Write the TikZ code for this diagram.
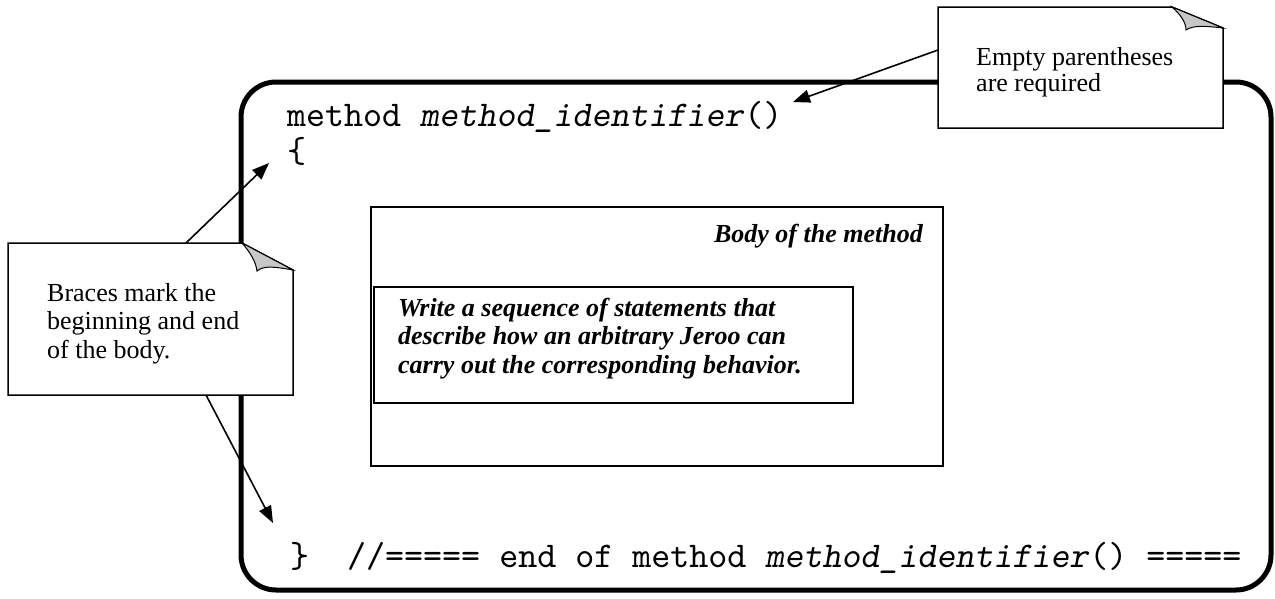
\documentclass[tikz,border=0pt]{standalone}
\usepackage{fontspec}
\setmainfont{Liberation Serif}
\newfontfamily\codefont{lmmono10-regular.otf}[ItalicFont=lmmonoslant10-regular.otf]
\usetikzlibrary{arrows.meta}
\begin{document}
\begin{tikzpicture}[x=1pt,y=-1pt,
  frame/.style={line width=5pt, rounded corners=35pt},
  thinbox/.style={line width=1.5pt},
  callout/.style={line width=1.5pt, fill=white, line join=miter},
  fold/.style={line width=1pt, fill=black!22},
  arr/.style={line width=1.6pt, -{Triangle[length=17pt,width=13pt]}},
  code/.style={inner sep=0pt, anchor=base west, font=\codefont\fontsize{36.2}{40}\selectfont},
  note/.style={inner sep=0pt, anchor=base west, font=\fontsize{26}{28.5}\selectfont},
  bnote/.style={inner sep=0pt, font=\fontsize{26}{28.5}\selectfont\bfseries\itshape}]
\useasboundingbox (0,0) rectangle (1275,598);
\fill[white] (0,0) rectangle (1275,598);

% main frame
\draw[frame] (241,82) rectangle (1271,590);

% code lines
\node[code] (sig) at (287,126) {method \textit{method\_identifier}()};
\node[code] (open) at (287,162) {\{};
\node[code] (close) at (290,567) {\}\ \ //===== end of method \textit{method\_identifier}() =====};

% body boxes
\draw[thinbox] (371,207) rectangle (943,466);
\node[bnote, anchor=base east] (bodylbl) at (923,242) {Body of the method};
\draw[thinbox] (374,287) rectangle (853,403);
\node[bnote, anchor=base west] (w1) at (398,316) {Write a sequence of statements that};
\node[bnote, anchor=base west] (w2) at (398,344.5) {describe how an arbitrary Jeroo can};
\node[bnote, anchor=base west] (w3) at (398,373) {carry out the corresponding behavior.};

% callout 1: Empty parentheses
\draw[callout] (938,7) -- (1172,7) -- (1223,28) -- (1223,128) -- (938,128) -- cycle;
\draw[fold] (1172,7) -- (1223,28) .. controls (1206,26) and (1193,25) .. (1186,30)
  .. controls (1186,22) and (1180,14) .. cycle;
\node[note] (e1) at (976,65) {Empty parentheses};
\node[note] (e2) at (976,91) {are required};
\coordinate (c1from) at (938,50);
\coordinate (c1to) at (793,102);
\draw[arr] (c1from) -- (c1to);

% callout 2: Braces
\draw[callout] (8,243) -- (242,243) -- (293,270) -- (293,395) -- (8,395) -- cycle;
\draw[fold] (242,243) -- (293,270) .. controls (276,267) and (264,265) .. (257,271)
  .. controls (256,262) and (250,252) .. cycle;
\node[note] (b1) at (47,301) {Braces mark the};
\node[note] (b2) at (47,329.5) {beginning and end};
\node[note] (b3) at (47,358) {of the body.};
\coordinate (c2top) at (186,243);
\coordinate (c2bot) at (206,395);
\coordinate (t2up) at (269,163);
\coordinate (t2dn) at (273,523);
\draw[arr] (c2top) -- (t2up);
\draw[arr] (c2bot) -- (t2dn);
\end{tikzpicture}
\end{document}
